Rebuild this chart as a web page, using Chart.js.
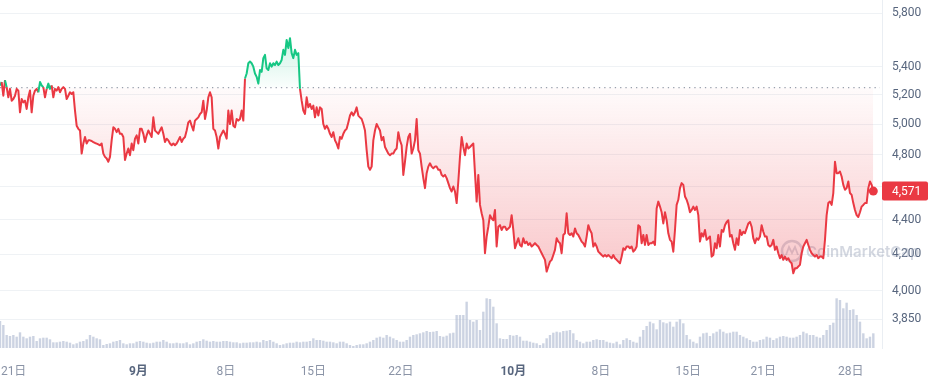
<!DOCTYPE html>
<html><head><meta charset="utf-8"><title>Price chart</title>
<script src="https://cdn.jsdelivr.net/npm/chart.js"></script>
<style>
    body { margin: 0; background: #fff; }
    #wrap { width: 930px; height: 376px; position: relative; }
</style>
</head>
<body>
<div id="wrap"><canvas id="priceChart"></canvas></div>
<script>
// price samples, one every 3.2 hours, first one just before 21 Aug 00:00
const startHour = -1.7;
const stepHours = 3.2;
const prices = [
    5265, 5289, 5193, 5302, 5253, 5182, 5241, 5159, 5170, 5193,
    5241, 5229, 5079, 5170, 5147, 5159, 5102, 5182, 5229, 5079,
    5193, 5229, 5241, 5217, 5289, 5265, 5253, 5182, 5241, 5278,
    5241, 5265, 5182, 5241, 5229, 5253, 5217, 5241, 5253, 5241,
    5170, 5193, 5217, 5205, 5217, 5091, 4989, 4968, 4957, 4806,
    4871, 4914, 4871, 4892, 4892, 4888, 4881, 4875, 4871, 4866,
    4860, 4871, 4806, 4785, 4775, 4754, 4785, 4892, 4978, 4968,
    4946, 4968, 4935, 4935, 4914, 4765, 4806, 4839, 4796, 4871,
    4828, 4903, 4925, 4871, 4968, 4968, 4935, 4881, 4925, 4957,
    4935, 4914, 5045, 4957, 4946, 4935, 4957, 4978, 4935, 4881,
    4903, 4892, 4871, 4860, 4871, 4860, 4871, 4892, 4914, 4881,
    4903, 4914, 4957, 5011, 5023, 4989, 4957, 5023, 5034, 5045,
    5068, 5079, 5159, 5034, 5091, 5182, 5217, 5182, 4968, 4957,
    4914, 4839,
    4914, 4935, 4957, 4935, 4903, 5091, 5000, 5091, 4989, 4978,
    5034, 5023, 5034, 5091, 5023, 5314, 5350, 5424, 5436, 5424,
    5399, 5350, 5326, 5278, 5375, 5362, 5461, 5485, 5387, 5375,
    5424, 5399, 5424, 5411, 5436, 5411, 5424, 5448, 5522, 5485,
    5596, 5535, 5609, 5498, 5461, 5522, 5485, 5498, 5241, 5159,
    5091, 5068, 5182, 5113, 5136, 5102, 5125, 5045, 5113, 5057,
    5113, 5102, 5000, 4968, 4989, 4968, 4935, 4914, 4946, 4892,
    4871, 4839, 4914, 4903, 4935, 4957, 4968, 5011, 5057, 5079,
    5057, 5079, 5113, 5057, 5045, 5034, 5000, 4957, 4828, 4723,
    4703, 4723, 4892, 4957, 5000, 4978, 4957, 4892, 4914, 4849,
    4828, 4806, 4796, 4806, 4806, 4828, 4839, 4946, 4892, 4860,
    4671, 4754, 4849, 4914, 4935, 4806, 4839, 4892, 5034, 4828,
    4806, 4723, 4651, 4589, 4682, 4723, 4744, 4723, 4713, 4723,
    4723, 4703,
    4703, 4671, 4661, 4671, 4651, 4620, 4589, 4568, 4599, 4568,
    4498, 4630, 4785, 4914, 4849, 4796, 4871, 4839, 4849, 4860,
    4871, 4682, 4507, 4671, 4487, 4437, 4396, 4206, 4301, 4358,
    4426, 4406, 4396, 4457, 4244, 4358, 4367, 4339, 4358, 4358,
    4339, 4348, 4358, 4426, 4339, 4234, 4263, 4291, 4253, 4244,
    4291, 4263, 4272, 4253, 4263, 4244, 4253, 4263, 4253, 4244,
    4225, 4206, 4187, 4169, 4104, 4132, 4159, 4169, 4196, 4225,
    4291, 4272, 4263, 4206, 4310, 4320, 4437, 4320, 4310, 4320,
    4301, 4348, 4320, 4310, 4291, 4272, 4263, 4244, 4301, 4367,
    4339, 4320, 4244, 4263, 4244, 4215, 4206, 4196, 4187, 4196,
    4187, 4196, 4187, 4178, 4196, 4178, 4169, 4159, 4150, 4187,
    4234, 4225, 4244, 4244, 4234, 4244, 4215, 4225, 4244, 4367,
    4358, 4263, 4310, 4253, 4310, 4253, 4263, 4263, 4272, 4253,
    4466, 4507,
    4477, 4443, 4377, 4443, 4396, 4320, 4282, 4272, 4215, 4339,
    4487, 4518, 4589, 4620, 4609, 4538, 4518, 4487, 4443, 4457,
    4477, 4457, 4477, 4426, 4272, 4320, 4301, 4339, 4282, 4291,
    4301, 4187, 4196, 4263, 4234, 4310, 4244, 4339, 4329, 4367,
    4386, 4396, 4301, 4310, 4263, 4225, 4291, 4253, 4339, 4310,
    4329, 4320, 4348, 4377, 4386, 4358, 4291, 4263, 4291, 4282,
    4301, 4367, 4329, 4301, 4301, 4253, 4244, 4253, 4282, 4225,
    4244, 4206, 4178, 4196, 4169, 4187, 4169, 4178, 4159, 4150,
    4095, 4122, 4122, 4132, 4141, 4206, 4244, 4263, 4282, 4253,
    4225, 4206, 4196, 4187, 4196, 4178, 4187, 4187, 4178, 4282,
    4426, 4498, 4507, 4487, 4559, 4754, 4682, 4682, 4692, 4661,
    4609, 4579, 4589, 4630, 4559, 4548, 4498, 4457, 4426, 4415,
    4443, 4477, 4487, 4498, 4498, 4589, 4630, 4609, 4571
];
// volume, one bar for every two price samples (relative units)
const volumes = [
    270, 230, 130, 120, 130, 113, 157, 113, 97, 113,
    120, 70, 97, 103, 103, 87, 57, 57, 63, 70,
    63, 53, 37, 47, 63, 70, 87, 130, 113, 97,
    87, 30, 40, 47, 63, 70, 80,
    47, 37, 47, 47, 63, 70, 63, 53, 47, 53,
    63, 63, 80, 63, 47, 47, 53, 47, 47, 57,
    37, 47, 63, 70, 87, 73, 63, 70, 63, 63,
    70, 70, 63, 57, 57, 47, 53, 53, 57, 57,
    63, 57, 80, 70, 80, 63, 47, 30, 37, 47,
    53, 53, 63, 57, 63, 63, 70, 97, 80, 80,
    73, 63, 63, 57, 47, 63, 63, 47, 30, 20,
    30, 37, 37, 47, 63, 80, 103, 113, 103, 130,
    113, 97, 80, 63, 63, 80, 113, 130, 137, 147,
    157, 170, 160, 163, 170, 120, 113, 123, 147, 153,
    330, 330, 330, 463, 280, 263, 280, 180, 363, 497,
    490, 413, 247, 97, 90, 90, 130, 123, 130, 113,
    73, 73, 63, 53, 47, 30, 47, 97, 130, 153,
    163, 157, 170, 173, 180, 147, 80, 63, 47, 63,
    63, 80, 87, 80, 80, 63, 53, 47, 63, 37,
    80, 97, 80, 63, 53, 113, 180, 220, 263, 247,
    187, 280, 257, 247, 263, 213, 263, 287, 247, 130,
    87, 63, 47, 113, 147, 153, 120, 147, 163, 187,
    163, 147, 153, 163, 163, 130, 113, 97, 80, 63,
    63, 80, 87, 113, 103, 80, 97, 113, 120, 113,
    103, 103, 113, 130, 163, 147, 130, 130, 113, 103,
    130, 180, 230, 253, 497, 480, 397, 453, 380, 387,
    330, 263, 147, 97, 113, 147
];
const baseline = 5250;
const yTicks = [3850, 4000, 4200, 4400, 4600, 4800, 5000, 5200, 5400, 5800];
// hours since 21 Aug 00:00
const xTickHours = [0, 264, 432, 600, 768, 984, 1152, 1320, 1464, 1632];
const xTickLabels = ['21日', '9月', '8日', '15日', '22日', '10月', '8日', '15日', '21日', '28日'];
const monthLabels = ['9月', '10月'];
const xMax = 1691.8;

const RED = '#ea3943';
const GREEN = '#16c784';
const FONT = "Roboto, 'Noto Sans CJK JP', sans-serif";

const canvas = document.getElementById('priceChart');
const ctx = canvas.getContext('2d');

const redFill = ctx.createLinearGradient(0, 87, 0, 290);
redFill.addColorStop(0, 'rgba(234, 57, 67, 0.02)');
redFill.addColorStop(1, 'rgba(234, 57, 67, 0.30)');
const greenFill = ctx.createLinearGradient(0, 35, 0, 88);
greenFill.addColorStop(0, 'rgba(22, 199, 132, 0.22)');
greenFill.addColorStop(1, 'rgba(22, 199, 132, 0.02)');

const extras = {
    id: 'extras',
    beforeDatasetsDraw(chart) {
        const { ctx, chartArea, scales } = chart;
        const y = scales.y.getPixelForValue(baseline);
        ctx.save();
        // dotted reference line
        ctx.strokeStyle = '#9aa1ae';
        ctx.lineWidth = 1.3;
        ctx.setLineDash([1.3, 4]);
        ctx.beginPath();
        ctx.moveTo(chartArea.left, y);
        ctx.lineTo(chartArea.right - 2, y);
        ctx.stroke();
        ctx.setLineDash([]);
        // watermark
        const wx = chartArea.right - 90, wy = 251;
        ctx.strokeStyle = 'rgba(150, 160, 182, 0.4)';
        ctx.lineWidth = 2.5;
        ctx.beginPath();
        ctx.arc(wx, wy, 10, 0, Math.PI * 2);
        ctx.stroke();
        ctx.lineWidth = 1.8;
        ctx.beginPath();
        ctx.moveTo(wx - 6, wy + 4);
        ctx.lineTo(wx - 3, wy - 4);
        ctx.lineTo(wx, wy + 2);
        ctx.lineTo(wx + 3, wy - 4);
        ctx.lineTo(wx + 6, wy + 4);
        ctx.stroke();
        ctx.fillStyle = 'rgba(150, 160, 182, 0.42)';
        ctx.font = "600 15px Inter, sans-serif";
        ctx.textBaseline = 'middle';
        ctx.fillText('CoinMarketCap', wx + 14, wy + 1);
        ctx.restore();
    },
    afterDraw(chart) {
        const { ctx, chartArea, scales } = chart;
        const last = prices[prices.length - 1];
        const y = scales.y.getPixelForValue(last);
        const x = chartArea.right;
        ctx.save();
        ctx.fillStyle = RED;
        ctx.beginPath();
        ctx.roundRect(x, y - 9.5, chart.width - x - 2, 19, 2);
        ctx.fill();
        ctx.fillStyle = '#fff';
        ctx.font = '12px ' + FONT;
        ctx.textBaseline = 'middle';
        ctx.fillText(last.toLocaleString('en-US'), x + 10, y + 0.5);
        ctx.restore();
    }
};

new Chart(ctx, {
    type: 'line',
    data: {
        datasets: [{
            type: 'line',
            data: prices.map((p, i) => ({ x: startHour + i * stepHours, y: p })),
            borderColor: RED,
            borderWidth: 2,
            borderJoinStyle: 'round',
            tension: 0,
            segment: {
                borderColor: c => (c.p0.parsed.y + c.p1.parsed.y) / 2 >= baseline ? GREEN : RED
            },
            fill: { target: { value: baseline }, above: greenFill, below: redFill },
            pointRadius: c => c.dataIndex === prices.length - 1 ? 4.5 : 0,
            pointBackgroundColor: RED,
            pointBorderWidth: 0,
            yAxisID: 'y',
            order: 0
        }, {
            type: 'bar',
            data: volumes.map((v, k) => ({ x: startHour + 2 * k * stepHours, y: v })),
            backgroundColor: 'rgba(170, 182, 206, 0.6)',
            barPercentage: 0.72,
            categoryPercentage: 1,
            yAxisID: 'yv',
            order: 1
        }]
    },
    options: {
        responsive: true,
        maintainAspectRatio: false,
        animation: false,
        events: [],
        layout: { padding: 0, autoPadding: false },
        plugins: { legend: { display: false }, tooltip: { enabled: false } },
        scales: {
            x: {
                type: 'linear',
                min: startHour,
                max: xMax,
                offset: false,
                grid: { display: false },
                border: { display: false },
                // extra empty tick at the right end so only the first label is pulled inside
                afterBuildTicks: s => { s.ticks = xTickHours.concat([xMax]).map(v => ({ value: v })); },
                afterFit: s => { s.height = 28; s.paddingLeft = 0; s.paddingRight = 0; },
                ticks: {
                    autoSkip: false,
                    maxRotation: 0,
                    padding: 9,
                    align: 'inner',
                    callback: (v, i) => xTickLabels[i] || '',
                    color: c => monthLabels.includes(xTickLabels[c.index]) ? '#58667e' : '#8a93a6',
                    font: c => ({
                        family: FONT,
                        size: 12,
                        weight: monthLabels.includes(xTickLabels[c.index]) ? 'bold' : 'normal'
                    })
                }
            },
            y: {
                type: 'logarithmic',
                position: 'right',
                min: 3705,
                max: 5903,
                grid: { color: '#eff2f5', drawTicks: false },
                border: { display: true, color: '#eaeef3' },
                afterBuildTicks: s => { s.ticks = yTicks.map(v => ({ value: v })); },
                afterFit: s => { s.width = 48; s.paddingTop = 0; s.paddingBottom = 0; },
                ticks: {
                    autoSkip: false,
                    padding: 10,
                    color: '#58667e',
                    font: { family: FONT, size: 12 },
                    callback: v => v === 4600 ? '' : v.toLocaleString('en-US')
                }
            },
            yv: {
                type: 'linear',
                display: false,
                min: 0,
                max: 3480
            }
        }
    },
    plugins: [extras]
});
</script>
</body>
</html>
